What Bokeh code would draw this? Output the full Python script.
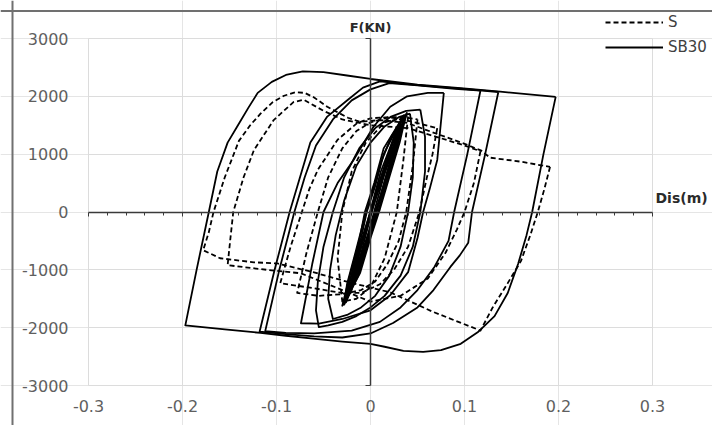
from bokeh.plotting import figure
from bokeh.models import (LinearAxis, FixedTicker, Grid, Label, Legend, LegendItem,
                          Range1d, CustomJSTickFormatter, Span)
from bokeh.embed import file_html
from bokeh.resources import INLINE

# ---------------- ticks ----------------
x_ticks = [-0.3, -0.2, -0.1, 0.0, 0.1, 0.2, 0.3]
x_tick_labels = ["-0.3", "-0.2", "-0.1", "0", "0.1", "0.2", "0.3"]
x_minor_ticks = [-0.28, -0.26, -0.24, -0.22, -0.18, -0.16, -0.14, -0.12, -0.08, -0.06,
                 -0.04, -0.02, 0.02, 0.04, 0.06, 0.08, 0.12, 0.14, 0.16, 0.18,
                 0.22, 0.24, 0.26, 0.28]
y_ticks = [-3000, -2000, -1000, 0, 1000, 2000, 3000]
y_tick_labels = ["-3000", "-2000", "-1000", "0", "1000", "2000", "3000"]

# ---------------- SB30 (solid) loops: displacement (m), force (kN) ----------------
sb30_1_x = [0.197, 0.184, 0.172, 0.166, 0.157, 0.146, 0.132, 0.114, 0.096, 0.075, 0.056, 0.035, 0.015, 0.000,
            -0.030, -0.061, -0.090, -0.117, -0.155, -0.197, -0.185, -0.172, -0.163, -0.152, -0.141, -0.130,
            -0.120, -0.105, -0.090, -0.072, -0.050, -0.025, 0.000, 0.050, 0.096, 0.138, 0.197]
sb30_1_y = [1990, 1000, 0, -400, -900, -1400, -1800, -2080, -2280, -2390, -2420, -2400, -2330, -2280,
            -2240, -2190, -2140, -2090, -2030, -1960, -1000, 0, 700, 1200, 1500, 1800,
            2060, 2250, 2370, 2430, 2420, 2360, 2300, 2200, 2140, 2080, 1990]

sb30_2_x = [0.136, 0.122, 0.108, 0.104, 0.095, 0.085, 0.067, 0.050, 0.024, 0.000, -0.030, -0.060, -0.090,
            -0.118, -0.102, -0.086, -0.075, -0.064, -0.046, -0.024, -0.008, 0.010, 0.050, 0.096, 0.136]
sb30_2_y = [2075, 1000, 0, -530, -750, -950, -1350, -1650, -1920, -2100, -2170, -2150, -2110,
            -2070, -1000, 0, 600, 1200, 1650, 1940, 2150, 2260, 2195, 2135, 2075]

sb30_3_x = [0.117, 0.103, 0.089, 0.083, 0.068, 0.050, 0.032, 0.010, -0.020, -0.060, -0.090, -0.112,
            -0.097, -0.081, -0.070, -0.058, -0.040, -0.020, 0.000, 0.020, 0.050, 0.090, 0.117]
sb30_3_y = [2100, 1000, 0, -500, -950, -1350, -1650, -1900, -2050, -2100, -2090, -2060,
            -1000, 0, 600, 1150, 1600, 1930, 2120, 2230, 2190, 2130, 2100]

sb30_4_x = [0.078, 0.071, 0.063, 0.056, 0.050, 0.040, 0.021, 0.000, -0.030, -0.055, -0.074,
            -0.062, -0.050, -0.035, -0.018, 0.003, 0.021, 0.039, 0.061, 0.078]
sb30_4_y = [2060, 900, 400, 0, -450, -1040, -1440, -1700, -1850, -1930, -1924,
            -900, 0, 500, 900, 1470, 1820, 2000, 2060, 2060]

sb30_5_x = [0.053, 0.058, 0.058, 0.053, 0.045, 0.032, 0.015, 0.000, -0.015, -0.030, -0.045, -0.055,
            -0.058, -0.056, -0.050, -0.040, -0.028, -0.012, 0.005, 0.022, 0.038, 0.053]
sb30_5_y = [1770, 1300, 700, 0, -600, -1100, -1450, -1650, -1800, -1900, -1960, -1990,
            -1700, -1200, -600, 0, 600, 1100, 1450, 1650, 1750, 1770]

sb30_6_x = [0.042, 0.046, 0.045, 0.040, 0.032, 0.020, 0.005, -0.010, -0.025, -0.040,
            -0.045, -0.043, -0.037, -0.028, -0.015, 0.000, 0.015, 0.030, 0.042]
sb30_6_y = [1700, 1200, 600, 0, -600, -1100, -1450, -1650, -1780, -1850,
            -1500, -1000, -400, 200, 800, 1200, 1480, 1640, 1700]

# dense band of small elastic cycles
sb30_7_x = [0.036, 0.028, 0.017, 0.008, -0.002, -0.013, -0.030, -0.022, -0.012, -0.006, 0.004, 0.014, 0.036]
sb30_7_y = [1680, 1100, 500, 0, -500, -1100, -1620, -1100, -500, 0, 500, 1100, 1680]

sb30_8_x = [0.033, 0.025, 0.015, 0.006, -0.003, -0.013, -0.027, -0.019, -0.010, -0.004, 0.005, 0.014, 0.033]
sb30_8_y = [1600, 1050, 450, 0, -500, -1050, -1550, -1000, -450, 0, 450, 1000, 1600]

sb30_9_x = [0.030, 0.022, 0.012, 0.004, -0.006, -0.024, -0.016, -0.007, 0.002, 0.011, 0.030]
sb30_9_y = [1500, 950, 350, -150, -700, -1450, -950, -400, 150, 700, 1500]

sb30_10_x = [0.026, 0.018, 0.008, -0.002, -0.021, -0.013, -0.004, 0.005, 0.026]
sb30_10_y = [1350, 850, 250, -350, -1300, -800, -250, 300, 1350]

sb30_11_x = [0.038, 0.031, 0.020, 0.010, 0.000, -0.011, -0.028, -0.025, -0.016, -0.008, 0.001, 0.011, 0.022, 0.038]
sb30_11_y = [1700, 1200, 600, 50, -450, -1050, -1580, -1250, -700, -200, 300, 850, 1300, 1700]

sb30_12_x = [0.034, 0.027, 0.019, 0.011, 0.002, -0.008, -0.020, -0.028, -0.020, -0.013, -0.005, 0.003, 0.013, 0.024, 0.034]
sb30_12_y = [1650, 1250, 750, 300, -200, -750, -1300, -1600, -1350, -900, -400, 100, 650, 1200, 1650]

sb30_13_x = [0.039, 0.033, 0.024, 0.014, 0.005, -0.005, -0.016, -0.026, -0.019, -0.011, -0.002, 0.008, 0.019, 0.030, 0.039]
sb30_13_y = [1720, 1400, 900, 400, -50, -550, -1100, -1560, -1100, -650, -150, 350, 850, 1350, 1720]

sb30_14_x = [0.037, 0.030, 0.021, 0.012, 0.003, -0.007, -0.018, -0.029, -0.023, -0.015, -0.006, 0.004, 0.015, 0.027, 0.037]
sb30_14_y = [1660, 1300, 800, 350, -100, -650, -1200, -1600, -1250, -800, -300, 200, 750, 1250, 1660]

# ---------------- S (dashed) loops ----------------
s_1_x = [0.191, 0.185, 0.178, 0.170, 0.160, 0.146, 0.130, 0.117, 0.067, 0.021, -0.024, -0.061, -0.099,
         -0.124, -0.160, -0.178, -0.172, -0.167, -0.155, -0.140, -0.128, -0.117, -0.104, -0.092, -0.080,
         -0.070, -0.060, -0.046, -0.024, -0.011, 0.011, 0.039, 0.064, 0.088, 0.103, 0.118, 0.127, 0.160, 0.191]
s_1_y = [780, 400, 0, -400, -850, -1230, -1650, -2050, -1730, -1390, -1210, -1040, -890,
         -870, -800, -660, -350, 0, 600, 1230, 1500, 1700, 1900, 2010, 2070,
         2060, 1980, 1820, 1630, 1560, 1590, 1540, 1390, 1250, 1160, 1060, 940, 870, 780]

s_2_x = [0.117, 0.110, 0.100, 0.092, 0.080, 0.061, 0.032, 0.000, -0.030, -0.074, -0.110, -0.152,
         -0.149, -0.146, -0.135, -0.124, -0.103, -0.082, -0.071, -0.050, -0.030, 0.000, 0.040, 0.070, 0.100, 0.117]
s_2_y = [1050, 500, 0, -300, -700, -1150, -1450, -1550, -1350, -1060, -1000, -920,
         -450, 0, 600, 1070, 1590, 1900, 1940, 1750, 1600, 1500, 1450, 1300, 1150, 1050]

s_3_x = [0.071, 0.066, 0.060, 0.052, 0.040, 0.025, 0.010, -0.010, -0.030, -0.060, -0.096,
         -0.085, -0.073, -0.065, -0.056, -0.035, -0.014, 0.000, 0.020, 0.045, 0.071]
s_3_y = [1450, 1000, 600, 0, -600, -1000, -1250, -1400, -1400, -1320, -1230,
         -600, 0, 400, 730, 1250, 1540, 1620, 1640, 1560, 1450]

s_4_x = [0.050, 0.045, 0.038, 0.030, 0.018, 0.005, -0.010, -0.030, -0.055, -0.078,
         -0.068, -0.056, -0.045, -0.030, -0.015, 0.000, 0.020, 0.035, 0.050]
s_4_y = [1600, 800, 0, -500, -900, -1200, -1350, -1420, -1450, -1400,
         -700, 0, 600, 1100, 1400, 1550, 1640, 1640, 1600]

s_5_x = [0.040, 0.035, 0.028, 0.015, 0.000, -0.015, -0.030, -0.035, -0.030, -0.020, -0.005, 0.015, 0.040]
s_5_y = [1650, 900, 0, -800, -1300, -1500, -1550, -800, 0, 700, 1200, 1550, 1650]

sb30_xs = [sb30_1_x, sb30_2_x, sb30_3_x, sb30_4_x, sb30_5_x, sb30_6_x, sb30_7_x, sb30_8_x,
           sb30_9_x, sb30_10_x, sb30_11_x, sb30_12_x, sb30_13_x, sb30_14_x]
sb30_ys = [sb30_1_y, sb30_2_y, sb30_3_y, sb30_4_y, sb30_5_y, sb30_6_y, sb30_7_y, sb30_8_y,
           sb30_9_y, sb30_10_y, sb30_11_y, sb30_12_y, sb30_13_y, sb30_14_y]
s_xs = [s_1_x, s_2_x, s_3_x, s_4_x, s_5_x]
s_ys = [s_1_y, s_2_y, s_3_y, s_4_y, s_5_y]

# ---------------- layout (pixels) ----------------
W, H = 712, 425                 # canvas
PLOT_L, PLOT_R = 88, 652        # x pixel of -0.3 / 0.3
PLOT_T, PLOT_B = 38, 385        # y pixel of 3000 / -3000
xpp = 0.6 / (PLOT_R - PLOT_L)
ypp = 6000 / (PLOT_B - PLOT_T)
X0, X1 = -0.3 - PLOT_L * xpp, 0.3 + (W - PLOT_R) * xpp
Y0, Y1 = -3000 - (H - PLOT_B) * ypp, 3000 + PLOT_T * ypp

FONT = "DejaVu Sans"
TICK_COLOR = "#5f5f5f"
AXIS_COLOR = "#3a3a3a"

p = figure(width=W, height=H, x_range=Range1d(X0, X1), y_range=Range1d(Y0, Y1),
           output_backend="svg", toolbar_location=None,
           x_axis_location=None, y_axis_location=None,
           min_border=0, min_border_left=0, min_border_right=0, min_border_top=0, min_border_bottom=0,
           outline_line_color=None, background_fill_color="white", border_fill_color="white")

# chart border (left and top, as in the cropped original)
p.add_layout(Span(location=X0 + 12 * xpp, dimension="height", line_color="#707070", line_width=2))
p.add_layout(Span(location=Y1 - 10.5 * ypp, dimension="width", line_color="#707070", line_width=2))

# grid
p.add_layout(Grid(dimension=0, ticker=FixedTicker(ticks=x_ticks), bounds=(-0.3, 0.3),
                  cross_bounds=(-3000, 3000), grid_line_color="#dcdcdc", grid_line_width=1))
p.add_layout(Grid(dimension=1, ticker=FixedTicker(ticks=y_ticks), bounds=(-3000, 3000),
                  cross_bounds=(-0.3, 0.3), grid_line_color="#dcdcdc", grid_line_width=1))

# tick-label axes at the plot-area edges
y_lab = LinearAxis(fixed_location=-0.3, bounds=(-3000, 3000), ticker=FixedTicker(ticks=y_ticks),
                   major_label_overrides=dict(zip(y_ticks, y_tick_labels)),
                   axis_line_color=None, major_tick_line_color=None, minor_tick_line_color=None,
                   major_tick_in=0, major_tick_out=0,
                   major_label_standoff=20, major_label_text_font=FONT,
                   major_label_text_font_size="16px", major_label_text_color=TICK_COLOR)
p.add_layout(y_lab, "left")
x_lab = LinearAxis(fixed_location=-3000, bounds=(-0.3, 0.3), ticker=FixedTicker(ticks=x_ticks),
                   major_label_overrides=dict(zip(x_ticks, x_tick_labels)),
                   axis_line_color=None, major_tick_line_color=None, minor_tick_line_color=None,
                   major_tick_in=0, major_tick_out=0,
                   major_label_standoff=14, major_label_text_font=FONT,
                   major_label_text_font_size="16px", major_label_text_color=TICK_COLOR)
p.add_layout(x_lab, "below")

# axes through the origin
x_mid = LinearAxis(fixed_location=0, bounds=(-0.3, 0.3),
                   ticker=FixedTicker(ticks=x_ticks, minor_ticks=x_minor_ticks),
                   formatter=CustomJSTickFormatter(code="return ''"),
                   major_label_text_font_size="1px", major_label_standoff=0,
                   axis_line_color=AXIS_COLOR, axis_line_width=1.5,
                   major_tick_line_color=AXIS_COLOR, minor_tick_line_color=AXIS_COLOR,
                   major_tick_in=0, major_tick_out=4, minor_tick_in=0, minor_tick_out=3)
p.add_layout(x_mid, "below")
y_mid = LinearAxis(fixed_location=0, bounds=(-3000, 3000),
                   ticker=FixedTicker(ticks=[-3000, 3000], minor_ticks=[]),
                   formatter=CustomJSTickFormatter(code="return ''"),
                   major_label_text_font_size="1px", major_label_standoff=0,
                   axis_line_color=AXIS_COLOR, axis_line_width=1.5,
                   major_tick_line_color=AXIS_COLOR, minor_tick_line_color=None,
                   major_tick_in=0, major_tick_out=5)
p.add_layout(y_mid, "left")

# series
r_s = p.multi_line(xs=s_xs, ys=s_ys, line_color="black", line_width=1.8,
                   line_dash="5 3", line_join="round")
r_sb = p.multi_line(xs=sb30_xs, ys=sb30_ys, line_color="black", line_width=1.8,
                    line_join="round")

# axis titles
p.add_layout(Label(x=0, y=3000, text="F(KN)", text_align="center", text_baseline="bottom",
                   y_offset=4, text_font=FONT, text_font_size="13px",
                   text_font_style="bold", text_color="#2a2a2a"))
p.add_layout(Label(x=0.3, y=0, text="Dis(m)", text_align="left", text_baseline="bottom",
                   x_offset=3, y_offset=6, text_font=FONT, text_font_size="14px",
                   text_font_style="bold", text_color="#2a2a2a"))

legend = Legend(items=[LegendItem(label="S", renderers=[r_s]),
                       LegendItem(label="SB30", renderers=[r_sb])],
                location=(605, H - 57), orientation="vertical",
                background_fill_alpha=0, border_line_color=None,
                padding=0, margin=0, spacing=5, glyph_width=58, glyph_height=20,
                label_height=20, label_standoff=5, label_text_font=FONT,
                label_text_font_size="15px", label_text_color="#404040")
p.add_layout(legend)

open("out.html", "w").write(file_html(p, INLINE))
